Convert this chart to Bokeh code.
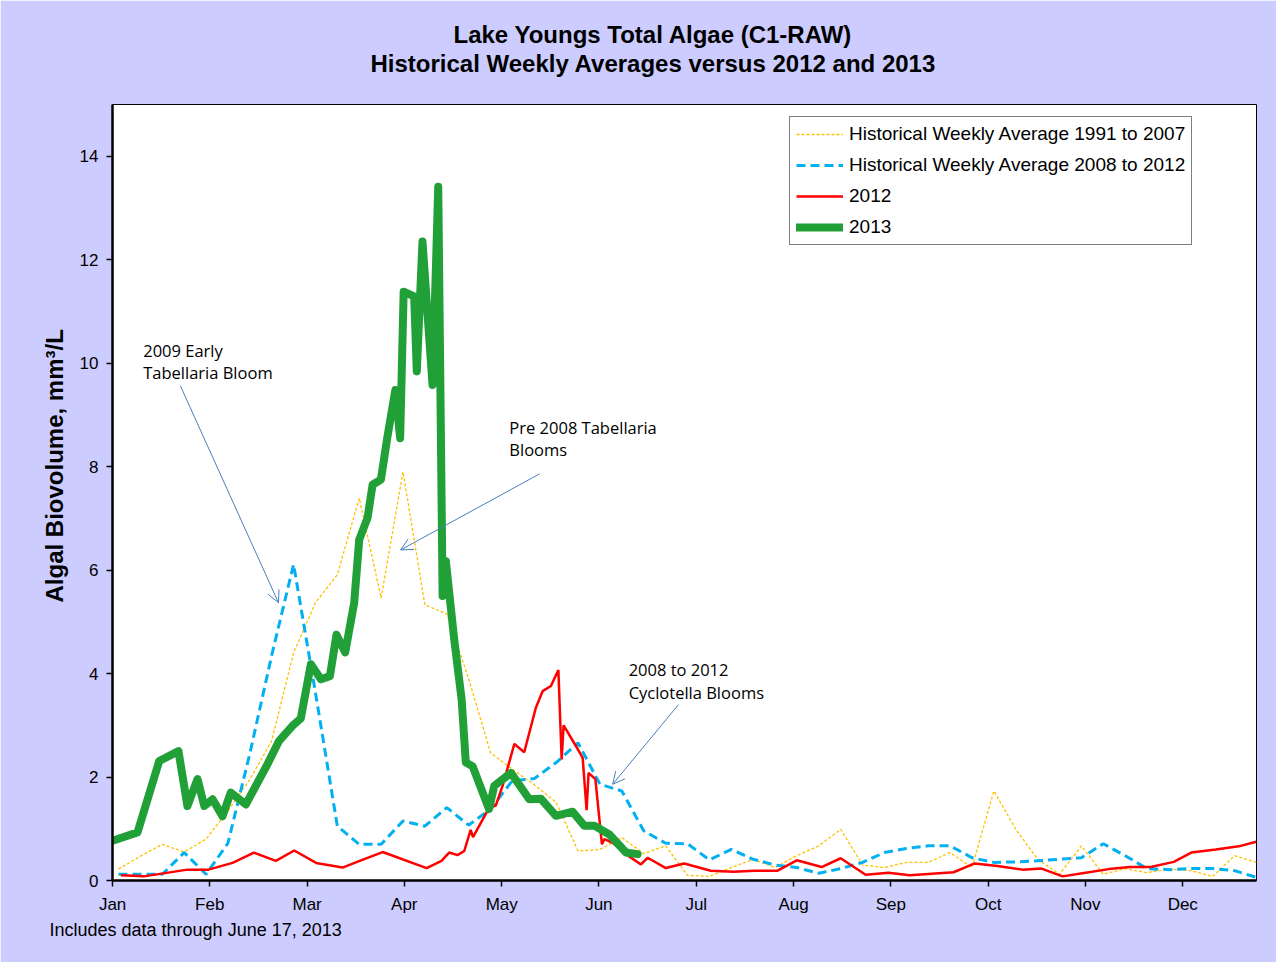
from bokeh.plotting import figure
from bokeh.models import (Range1d, FixedTicker, Legend, LegendItem, Label,
                          Arrow, OpenHead, Title)
from bokeh.embed import file_html
from bokeh.resources import INLINE

# ---------------- data ----------------
MONTHS = ["Jan", "Feb", "Mar", "Apr", "May", "Jun",
          "Jul", "Aug", "Sep", "Oct", "Nov", "Dec"]
# month label positions on the week axis
MONTH_TICKS = [-0.27, 4.17, 8.62, 13.06, 17.51, 21.95,
               26.40, 30.85, 35.29, 39.74, 44.18, 48.63]
Y_TICKS = [0, 2, 4, 6, 8, 10, 12, 14]

HIST_WEEK = list(range(53))
HIST_1991_2007 = [0.22, 0.47, 0.70, 0.55, 0.80, 1.35, 1.95, 2.70, 4.40, 5.37,
                  5.91, 7.39, 5.46, 7.90, 5.33, 5.15, 3.90, 2.47, 2.15, 1.85,
                  1.51, 0.57, 0.60, 0.83, 0.52, 0.67, 0.10, 0.08, 0.25, 0.41,
                  0.25, 0.48, 0.67, 0.99, 0.30, 0.25, 0.35, 0.35, 0.54, 0.25,
                  1.73, 0.99, 0.41, 0.12, 0.67, 0.12, 0.23, 0.15, 0.22, 0.19,
                  0.08, 0.48, 0.35]
HIST_2008_2012 = [0.12, 0.12, 0.12, 0.54, 0.12, 0.72, 2.45, 4.35, 6.11, 3.63,
                  1.05, 0.70, 0.70, 1.15, 1.05, 1.41, 1.07, 1.38, 1.93, 1.97,
                  2.28, 2.66, 1.86, 1.73, 0.96, 0.72, 0.71, 0.40, 0.60, 0.41,
                  0.30, 0.25, 0.14, 0.23, 0.35, 0.54, 0.62, 0.67, 0.67, 0.44,
                  0.35, 0.36, 0.38, 0.41, 0.44, 0.71, 0.48, 0.23, 0.21, 0.23,
                  0.23, 0.19, 0.06]

Y2012_WEEK = [0.11, 1.17, 3.15, 4.11, 5.21, 6.19, 7.19, 8.03, 9.03, 10.24,
              11.02, 12.07, 14.08, 14.76, 15.11, 15.49, 15.80, 16.09, 16.20,
              16.94, 17.24, 17.55, 18.09, 18.54, 19.07, 19.38, 19.76, 20.10,
              20.25, 20.34, 20.90, 21.21, 21.39, 21.48, 21.79, 22.09, 22.20,
              22.58, 23.19, 23.87, 24.18, 25.01, 25.85, 27.06, 28.11, 29.07,
              30.12, 30.99, 32.13, 33.00, 34.14, 35.19, 36.15, 37.16, 38.16,
              39.12, 40.17, 41.32, 42.18, 43.14, 44.19, 45.25, 46.21, 47.17,
              48.22, 49.02, 50.14, 51.19, 51.99]
Y2012_VAL = [0.10, 0.08, 0.21, 0.21, 0.34, 0.54, 0.38, 0.58, 0.34, 0.25,
             0.38, 0.55, 0.24, 0.38, 0.54, 0.49, 0.57, 0.98, 0.84,
             1.41, 1.45, 1.83, 2.64, 2.48, 3.34, 3.66, 3.76, 4.07,
             2.34, 3.00, 2.60, 2.37, 1.36, 2.08, 1.96, 0.70, 0.80,
             0.73, 0.51, 0.31, 0.44, 0.24, 0.33, 0.19, 0.17, 0.19,
             0.19, 0.39, 0.26, 0.43, 0.11, 0.15, 0.10, 0.13, 0.16,
             0.33, 0.28, 0.21, 0.23, 0.08, 0.15, 0.22, 0.26, 0.26,
             0.36, 0.54, 0.60, 0.66, 0.75]

Y2013_WEEK = [-0.27, 0.87, 1.86, 2.74, 3.15, 3.61, 3.92, 4.30, 4.75, 5.13,
              5.82, 6.81, 7.34, 7.95, 8.33, 8.79, 9.25, 9.66, 9.96, 10.36,
              10.77, 11.00, 11.38, 11.61, 11.99, 12.29, 12.65, 12.87, 13.03,
              13.51, 13.63, 13.89, 14.35, 14.61, 14.81, 14.96, 15.34, 15.68,
              15.87, 16.18, 16.93, 17.17, 17.93, 18.77, 19.30, 19.99, 20.75,
              21.28, 21.74, 22.43, 23.19, 23.72]
Y2013_VAL = [0.77, 0.93, 2.31, 2.50, 1.44, 1.96, 1.44, 1.57, 1.24, 1.70,
             1.47, 2.25, 2.70, 2.99, 3.13, 4.18, 3.89, 3.95, 4.75, 4.41,
             5.37, 6.59, 7.01, 7.65, 7.75, 8.58, 9.48, 8.55, 11.38,
             11.29, 9.84, 12.35, 9.58, 13.41, 5.50, 6.17, 4.66, 3.50,
             2.28, 2.21, 1.38, 1.83, 2.08, 1.57, 1.58, 1.25, 1.33,
             1.06, 1.06, 0.89, 0.54, 0.51]

SERIES_NAMES = ["Historical Weekly Average 1991 to 2007",
                "Historical Weekly Average 2008 to 2012",
                "2012", "2013"]

TITLE_1 = "Lake Youngs Total Algae (C1-RAW)"
TITLE_2 = "Historical Weekly Averages versus 2012 and 2013"
FOOTNOTE = "Includes data through June 17, 2013"
Y_LABEL = "Algal Biovolume, mm\u00b3/L"

ARIAL = "Liberation Sans"
CALIBRI = "Open Sans"
ARROW_COLOR = "#4A7EBB"

# ---------------- figure ----------------
p = figure(width=1276, height=962, output_backend="svg", toolbar_location=None,
           x_range=Range1d(-0.274, 52.0), y_range=Range1d(0, 15),
           min_border_left=112, min_border_right=20,
           min_border_top=104, min_border_bottom=82)
p.border_fill_color = "#CCCCFF"
p.background_fill_color = "white"
p.outline_line_color = "black"
p.outline_line_width = 1
p.xgrid.visible = False
p.ygrid.visible = False

p.xaxis.ticker = FixedTicker(ticks=MONTH_TICKS)
p.xaxis.major_label_overrides = {t: m for t, m in zip(MONTH_TICKS, MONTHS)}
p.yaxis.ticker = FixedTicker(ticks=Y_TICKS)
for ax in (p.xaxis[0], p.yaxis[0]):
    ax.axis_line_color = "black"
    ax.axis_line_width = 2.5
    ax.major_tick_line_color = "black"
    ax.major_tick_line_width = 1.5
    ax.major_tick_out = 6
    ax.major_tick_in = 0
    ax.minor_tick_line_color = None
    ax.major_label_text_font = ARIAL
    ax.major_label_text_font_size = "17px"
    ax.major_label_text_color = "black"
    ax.major_label_standoff = 8

r_hist1 = p.line(HIST_WEEK, HIST_1991_2007, line_color="#FFC000",
                 line_width=1.3, line_dash="3 2")
r_hist2 = p.line(HIST_WEEK, HIST_2008_2012, line_color="#00B0F0",
                 line_width=3, line_dash="9 5")
r_2012 = p.line(Y2012_WEEK, Y2012_VAL, line_color="#FF0000", line_width=2.5)
r_2013 = p.line(Y2013_WEEK, Y2013_VAL, line_color="#21A038", line_width=8,
                line_join="round", line_cap="round")

legend = Legend(items=[LegendItem(label=n, renderers=[r])
                       for n, r in zip(SERIES_NAMES,
                                       [r_hist1, r_hist2, r_2012, r_2013])],
                location=(677, 635), margin=0, padding=6, spacing=9,
                glyph_width=47, glyph_height=20, label_height=20,
                label_standoff=6, label_text_font=ARIAL,
                label_text_font_size="19px", label_text_color="black",
                label_text_baseline="middle",
                border_line_color="black", border_line_width=1,
                background_fill_color="white", background_fill_alpha=1)
p.add_layout(legend, "center")

# titles (line 2 nearest the plot), y-axis title and footnote
p.add_layout(Title(text=TITLE_2, align="left", offset=258, standoff=56,
                   text_font=ARIAL, text_font_size="24px",
                   text_font_style="bold", text_color="black"), "above")
p.add_layout(Title(text=TITLE_1, align="left", offset=341, standoff=-56,
                   text_font=ARIAL, text_font_size="24px",
                   text_font_style="bold", text_color="black"), "above")
p.add_layout(Title(text=Y_LABEL, align="left", offset=278, standoff=18,
                   text_font=ARIAL, text_font_size="24px",
                   text_font_style="bold", text_color="black"), "left")
p.add_layout(Title(text=FOOTNOTE, align="left", offset=-63, standoff=2,
                   text_font=ARIAL, text_font_size="18px",
                   text_font_style="normal", text_color="black"), "below")

# callouts
CALLOUTS = [
    (["2009 Early", "Tabellaria Bloom"], 1.13, [10.25, 9.81],
     (2.83, 9.56, 7.31, 5.37)),
    (["Pre 2008 Tabellaria", "Blooms"], 17.86, [8.76, 8.33],
     (19.24, 7.86, 12.89, 6.39)),
    (["2008 to 2012", "Cyclotella Blooms"], 23.31, [4.08, 3.63],
     (25.59, 3.40, 22.58, 1.86)),
]
for lines, xl, ys, (xs, ysa, xe, ye) in CALLOUTS:
    for t, yv in zip(lines, ys):
        p.add_layout(Label(x=xl, y=yv, text=t, text_font=CALIBRI,
                           text_font_size="16.5px", text_align="left",
                           text_baseline="middle", text_color="black"))
    p.add_layout(Arrow(end=OpenHead(size=12, line_color=ARROW_COLOR,
                                    line_width=1),
                       x_start=xs, y_start=ysa, x_end=xe, y_end=ye,
                       line_color=ARROW_COLOR, line_width=1))

open("out.html", "w").write(file_html(p, INLINE))
